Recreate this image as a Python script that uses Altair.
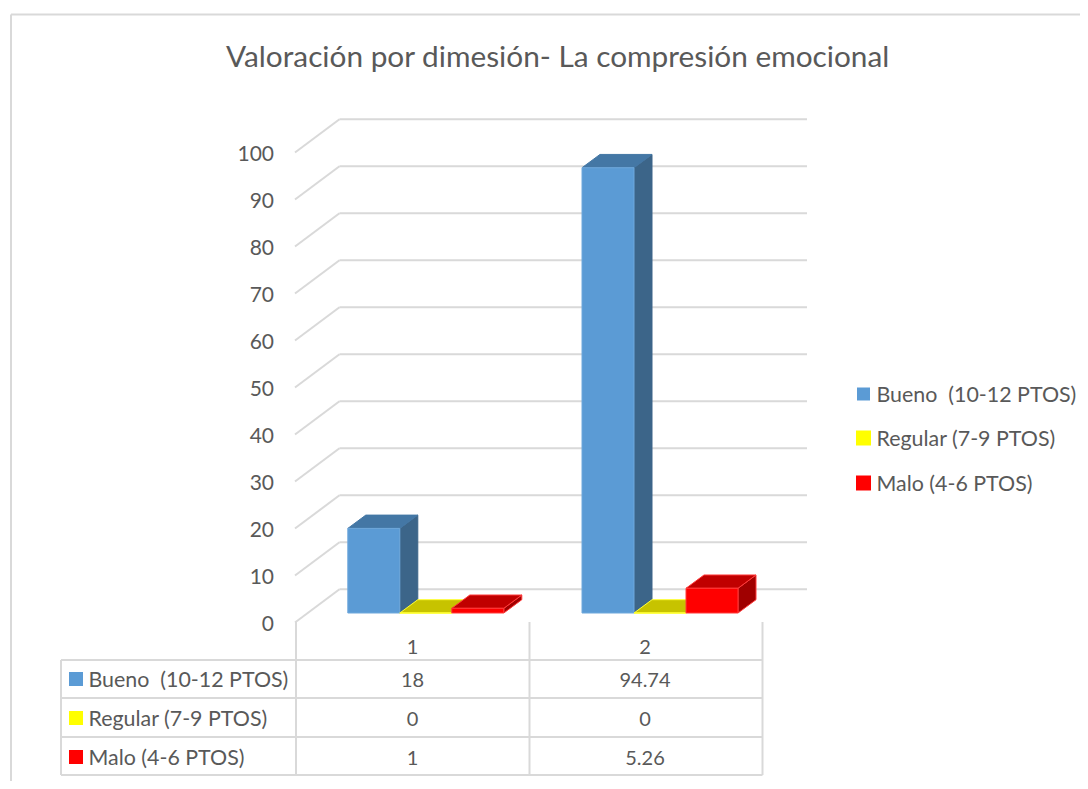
import altair as alt
import pandas as pd

TITLE = "Valoración por dimesión- La compresión emocional"
categories = ["1", "2"]
series_names = ["Bueno \u00a0(10-12 PTOS)", "Regular (7-9 PTOS)", "Malo (4-6 PTOS)"]
bueno = [18, 94.74]
regular = [0, 0]
malo = [1, 5.26]
ticks = [0, 10, 20, 30, 40, 50, 60, 70, 80, 90, 100]
table_text = ["18", "94.74", "0", "0", "1", "5.26"]

front_col = ["#5B9BD5", "#FFFF00", "#FF0000"]
top_col = ["#4477A5", "#C7C300", "#C00000"]
side_col = ["#3C6589", "#A3A000", "#A00000"]
edge_col = ["#6FA8DC", "#FFFF33", "#FF3B3B"]

FONT = "Lato"
TXT = "#595959"
LINE = "#D9D9D9"
W, H = 1072, 773
PX_PER_UNIT = 4.7
BASE = 613.0


def V(py):
    return (BASE - py) / PX_PER_UNIT


DEPTH_X = 18.0
DEPTH_Y = 13.3 / PX_PER_UNIT
BAR_W = 52.0
GROUP_X = [347.8, 582.0]

xs = alt.Scale(domain=[8, 8 + W], range=[0, W], nice=False, zero=False)
ys = alt.Scale(domain=[V(8 + H), V(8)], range=[H, 0], nice=False, zero=False)
X = lambda f="x": alt.X(f"{f}:Q", scale=xs, axis=None)
Y = lambda f="y": alt.Y(f"{f}:Q", scale=ys, axis=None)

# rules -------------------------------------------------------------------
rules = []
BACK = V(589.3)
LEFT = V(622.5)
for t in ticks:
    rules.append(dict(x=339.5, x2=807, y=t + BACK, y2=t + BACK))
    rules.append(dict(x=295, x2=339.5, y=t + LEFT, y2=t + BACK))
FRAME = [
    dict(x=11, x2=1080, y=V(14.5), y2=V(14.5)),
    dict(x=11, x2=11, y=V(14.5), y2=V(781)),
]
for py in [660, 698, 737, 775]:
    FRAME.append(dict(x=61, x2=762.5, y=V(py), y2=V(py)))
FRAME.append(dict(x=61, x2=61, y=V(660), y2=V(775)))
for px in [296, 529.5, 762.5]:
    FRAME.append(dict(x=px, x2=px, y=V(622), y2=V(775)))

grid = alt.Chart(pd.DataFrame(rules + FRAME)).mark_rule(color=LINE, strokeWidth=2).encode(
    x=X(), x2="x2:Q", y=Y(), y2="y2:Q"
)

layers = [grid]

# bars --------------------------------------------------------------------
all_values = [bueno, regular, malo]
for s, vals in enumerate(all_values):
    front, top, side = [], [], []
    for c, v in enumerate(vals):
        x0 = GROUP_X[c] + s * BAR_W
        x1 = x0 + BAR_W
        k = f"{c}"
        front.append(dict(k=k, x=x0, x2=x1, y=0, y2=v))
        top += [
            dict(k=k, y=v, a=x0, b=x1),
            dict(k=k, y=v + DEPTH_Y, a=x0 + DEPTH_X, b=x1 + DEPTH_X),
        ]
        side += [
            dict(k=k, x=x1, lo=0, hi=v),
            dict(k=k, x=x1 + DEPTH_X, lo=DEPTH_Y, hi=v + DEPTH_Y),
        ]
    sw = 1
    layers.append(
        alt.Chart(pd.DataFrame(side))
        .mark_area(orient="vertical", color=side_col[s], stroke=edge_col[s] if s else side_col[s], strokeWidth=sw)
        .encode(x=X(), y=Y("lo"), y2="hi:Q", detail="k:N")
    )
    layers.append(
        alt.Chart(pd.DataFrame(top))
        .mark_area(orient="horizontal", color=top_col[s], stroke=edge_col[s] if s else top_col[s], strokeWidth=sw)
        .encode(y=Y(), x=X("a"), x2="b:Q", detail="k:N")
    )
    layers.append(
        alt.Chart(pd.DataFrame(front))
        .mark_rect(color=front_col[s], stroke=edge_col[s], strokeWidth=sw)
        .encode(x=X(), x2="x2:Q", y=Y(), y2="y2:Q")
    )

# texts -------------------------------------------------------------------
def text_layer(rows, size, align):
    return (
        alt.Chart(pd.DataFrame(rows))
        .mark_text(font=FONT, fontSize=size, color=TXT, align=align, baseline="middle", dy=2)
        .encode(x=X(), y=Y(), text="t:N")
    )


tick_rows = [dict(x=274, y=V(622.5 - 46.95 * i), t=str(t)) for i, t in enumerate(ticks)]
layers.append(text_layer(tick_rows, 21, "right"))

cols_x = [412.5, 645]
row_y = [679, 718, 757]
cat_rows = [dict(x=cols_x[i], y=V(646), t=c) for i, c in enumerate(categories)]
cell_rows = []
for r in range(3):
    for c in range(2):
        cell_rows.append(dict(x=cols_x[c], y=V(row_y[r]), t=table_text[r * 2 + c]))
layers.append(text_layer(cat_rows + cell_rows, 20, "center"))

name_rows = [dict(x=88.5, y=V(row_y[i]), t=n) for i, n in enumerate(series_names)]
leg_y = [394, 438, 483]
leg_rows = [dict(x=876.5, y=V(leg_y[i]), t=n) for i, n in enumerate(series_names)]
layers.append(text_layer(name_rows + leg_rows, 21.4, "left"))

# swatches
sw_rows = []
for i in range(3):
    sw_rows.append(dict(c=front_col[i], x=69, x2=83, y=V(row_y[i] - 7), y2=V(row_y[i] + 7)))
    half = 6.5 if i == 0 else 7.5
    sw_rows.append(dict(c=front_col[i], x=863.5 - half, x2=863.5 + half, y=V(leg_y[i] - half), y2=V(leg_y[i] + half)))
layers.append(
    alt.Chart(pd.DataFrame(sw_rows))
    .mark_rect()
    .encode(
        x=X(), x2="x2:Q", y=Y(), y2="y2:Q",
        color=alt.Color("c:N", scale=None, legend=None),
    )
)

chart = (
    alt.layer(*layers)
    .properties(
        width=W,
        height=H,
        padding=0,
        autosize=alt.AutoSizeParams(type="none"),
        background="white",
        title=alt.TitleParams(
            TITLE, font=FONT, fontSize=29.8, fontWeight="normal", color=TXT,
            anchor="start", dx=218, offset=-65, frame="bounds",
        ),
    )
    .configure_view(stroke=None)
)
chart.save("out.html", embed_options={"renderer": "svg", "actions": False})
